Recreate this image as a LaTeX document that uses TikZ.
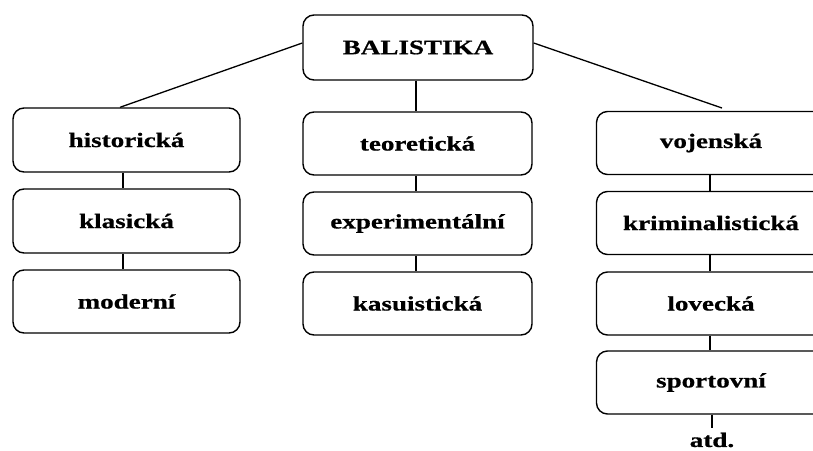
\documentclass[tikz,border=0pt]{standalone}
\usepackage{fontspec}
\setmainfont{Liberation Serif}[FakeStretch=1.32,FakeBold=0.7]
\begin{document}
\begin{tikzpicture}[x=1pt,y=-1pt,
  box/.style={draw=black, line width=1.4pt, rounded corners=11pt, minimum width=229pt, minimum height=63pt, inner sep=0pt, font=\fontsize{20.5}{24}\selectfont\bfseries},
  conn/.style={draw=black, line width=1.3pt},
  lbl/.style={inner sep=0pt, font=\fontsize{20.5}{24}\selectfont\bfseries}]
\useasboundingbox (0,0) rectangle (813,450);
\clip (0,0) rectangle (813,450);
\fill[white] (0,0) rectangle (813,450);
% top
\node[box, minimum width=230pt, minimum height=65pt] (bal) at (418,47.5) {BALISTIKA};
% left column
\node[box, minimum width=227pt, minimum height=64pt] (his) at (126.5,140) {historická};
\node[box, minimum width=227pt, minimum height=64pt] (kla) at (126.5,221) {klasická};
\node[box, minimum width=227pt, minimum height=63pt] (mod) at (126.5,301.5) {moderní};
% middle column
\node[box] (teo) at (417.5,143.5) {teoretická};
\node[box] (exp) at (417.5,223.5) {experimentální};
\node[box] (kas) at (417.5,303.5) {kasuistická};
% right column
\node[box] (voj) at (711,143) {vojenská};
\node[box] (kri) at (711,223) {kriminalistická};
\node[box] (lov) at (711,303.5) {lovecká};
\node[box] (spo) at (711,382.5) {sportovní};
\node[lbl] (atd) at (712,440) {atd.};
\coordinate (atdtop) at (712,428);
% connectors
\draw[conn] (bal.west |- 0,43) -- (his.north -| 120,0);
\draw[conn] (bal.east |- 0,43) -- (722,108);
\draw[conn] (bal.south -| 416,0) -- (teo.north -| 416,0);
\draw[conn] (his.south -| 123,0) -- (kla.north -| 123,0);
\draw[conn] (kla.south -| 123,0) -- (mod.north -| 123,0);
\draw[conn] (teo.south -| 416,0) -- (exp.north -| 416,0);
\draw[conn] (exp.south -| 416,0) -- (kas.north -| 416,0);
\draw[conn] (voj.south -| 710,0) -- (kri.north -| 710,0);
\draw[conn] (kri.south -| 710,0) -- (lov.north -| 710,0);
\draw[conn] (lov.south -| 710,0) -- (spo.north -| 710,0);
\draw[conn] (spo.south -| 712,0) -- (atdtop);
\end{tikzpicture}
\end{document}
